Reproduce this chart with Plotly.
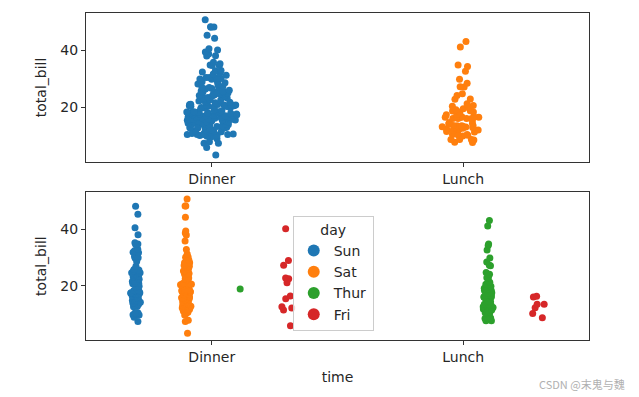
import plotly.graph_objects as go
from plotly.subplots import make_subplots

# ---- data (tips dataset: total_bill grouped by day and time) ----
time_categories = ["Dinner", "Lunch"]
day_order = ["Sun", "Sat", "Thur", "Fri"]
y_ticks = [20, 40]

sun_dinner = [16.99, 10.34, 21.01, 23.68, 24.59, 25.29, 8.77, 26.88, 15.04, 14.78,
              10.27, 35.26, 15.42, 18.43, 14.83, 21.58, 10.33, 16.29, 16.97,
              17.46, 13.94, 9.68, 30.40, 18.29, 22.23, 32.40, 28.55, 18.04, 12.54,
              10.29, 34.81, 9.94, 25.56, 19.49,
              38.07, 23.95, 25.71, 17.31, 29.93,
              14.07, 13.13, 17.26, 24.55, 19.77, 29.85, 48.17, 25.00, 13.39, 16.49,
              21.50, 12.66, 16.21, 13.81, 17.51, 24.52, 20.76, 31.71,
              7.25, 31.85, 16.82, 32.90, 17.89, 14.48, 9.60, 34.63, 34.65, 23.33,
              45.35, 23.17, 40.55, 20.69, 20.90, 30.46, 18.15, 23.10, 15.69]

sat_dinner = [20.65, 17.92, 20.29, 15.77, 39.42, 19.82, 17.81, 13.37, 12.69, 21.70,
              19.65, 9.55, 18.35, 15.06, 20.69, 17.78, 24.06, 16.31, 16.93, 18.69,
              31.27, 16.04,
              38.01, 26.41, 11.24, 48.27, 20.29, 13.81, 11.02, 18.29, 17.59, 20.08,
              16.45, 3.07, 20.23, 15.01, 12.02, 17.07, 26.86, 25.28, 14.73, 10.51,
              17.92,
              44.30, 22.42, 20.92, 15.36, 20.49, 25.21, 18.24, 14.31, 14.00, 7.25,
              10.59, 10.63, 50.81, 15.81,
              26.59, 38.73, 24.27, 12.76, 30.06, 25.89, 48.33, 13.27, 28.17, 12.90,
              28.15, 11.59, 7.74, 30.14,
              20.45, 13.28, 22.12, 24.01, 15.69, 11.61, 10.77, 15.53, 10.07, 12.60,
              32.83, 35.83, 29.03, 27.18, 22.67, 17.82]

thur_lunch = [27.20, 22.76, 17.29, 19.44, 16.66, 10.07, 32.68, 15.98, 34.83, 13.03,
              18.28, 24.71, 21.16,
              10.65, 12.43, 24.08, 11.69, 13.42, 14.26, 15.95, 12.48, 29.80, 8.52,
              14.52, 11.38, 22.82, 19.08, 20.27, 11.17, 12.26, 18.26, 8.51, 10.33,
              14.15, 16.00, 13.16, 17.47, 34.30, 41.19, 27.05, 16.43, 8.35, 18.64,
              11.87, 9.78, 7.51,
              19.81, 28.44, 15.48, 16.58, 7.56, 10.34, 43.11, 13.00, 13.51, 18.71,
              12.74, 13.00, 16.40, 20.53, 16.47]

thur_dinner = [18.78]

fri_dinner = [28.97, 22.49, 5.75, 16.32, 22.75, 40.17, 27.28, 12.03, 21.01, 12.46,
              11.35, 15.38]

fri_lunch = [12.16, 13.42, 8.58, 15.98, 13.42, 16.27, 10.09]

palette = ["#1f77b4", "#ff7f0e", "#2ca02c", "#d62728"]
FONT = "DejaVu Sans"
TXT = "#262626"
FS = 14

fig = make_subplots(rows=2, cols=1, vertical_spacing=0.093)


def strip(x, y, color, group, jitter):
    return go.Box(
        x=x, y=y, boxpoints="all", jitter=jitter, pointpos=0,
        fillcolor="rgba(0,0,0,0)",
        line=dict(color="rgba(0,0,0,0)", width=0),
        marker=dict(color=color, size=7, line=dict(width=0)),
        offsetgroup=group, showlegend=False, hoveron="points",
    )


# ---- top: total_bill by time ----
dinner_all = sun_dinner + sat_dinner + thur_dinner + fri_dinner
lunch_all = thur_lunch + fri_lunch
fig.add_trace(strip(["Dinner"] * len(dinner_all), dinner_all, palette[0], "top", 0.25), row=1, col=1)
fig.add_trace(strip(["Lunch"] * len(lunch_all), lunch_all, palette[1], "top", 0.25), row=1, col=1)

# ---- bottom: total_bill by time, dodged by day ----
day_data = {
    "Sun": (sun_dinner, []),
    "Sat": (sat_dinner, []),
    "Thur": (thur_dinner, thur_lunch),
    "Fri": (fri_dinner, fri_lunch),
}
for i, day in enumerate(day_order):
    din, lun = day_data[day]
    xs = ["Dinner"] * len(din) + ["Lunch"] * len(lun)
    ys = din + lun
    fig.add_trace(strip(xs, ys, palette[i], day, 0.25), row=2, col=1)

for i, day in enumerate(day_order):
    fig.add_trace(go.Scatter(x=[None], y=[None], mode="markers", name=day,
                             marker=dict(color=palette[i], size=12),
                             showlegend=True, hoverinfo="skip"), row=2, col=1)

axis_common = dict(showline=True, mirror=True, linecolor="#333333", linewidth=1,
                   ticks="outside", ticklen=4, tickcolor="#333333", showgrid=False,
                   zeroline=False, automargin=False,
                   tickfont=dict(family=FONT, size=FS, color=TXT))

for r in (1, 2):
    fig.update_xaxes(type="category", categoryorder="array", categoryarray=time_categories,
                     range=[-0.5, 1.5], row=r, col=1, **axis_common)
    fig.update_yaxes(range=[0.68, 53.2], tickvals=y_ticks, row=r, col=1,
                     title=dict(text="total_bill", font=dict(family=FONT, size=FS, color=TXT),
                                standoff=10),
                     **axis_common)

fig.update_xaxes(title=dict(text="time", font=dict(family=FONT, size=FS, color=TXT), standoff=8),
                 row=2, col=1)

# page body has an 8px margin: figure is drawn 8px in from the window's top-left
fig.update_layout(
    width=631, height=389,
    margin=dict(l=78, r=50, t=5, b=57, autoexpand=False),
    paper_bgcolor="white", plot_bgcolor="white",
    boxmode="group", boxgap=0.2, boxgroupgap=0,
    font=dict(family=FONT, size=FS, color=TXT),
    legend=dict(
        x=0.411, y=0.38, xanchor="left", yanchor="top",
        title=dict(text="day", side="top center", font=dict(family=FONT, size=FS, color=TXT)),
        bgcolor="rgba(255,255,255,0.8)", bordercolor="#cccccc", borderwidth=1,
        font=dict(family=FONT, size=FS, color=TXT), itemwidth=30,
    ),
)

fig.update_layout(
    xaxis=dict(domain=[0, 1]), yaxis=dict(domain=[0.545, 1]),
    xaxis2=dict(domain=[0, 1]), yaxis2=dict(domain=[0, 0.452]),
)

fig.add_annotation(text="CSDN @末鬼与魏", xref="paper", yref="paper", x=1.0755, y=-0.135,
                   xanchor="right", yanchor="middle", showarrow=False,
                   font=dict(family="Noto Sans CJK SC", size=11, color="#b0b0b0"))

fig.write_html("out.html")
